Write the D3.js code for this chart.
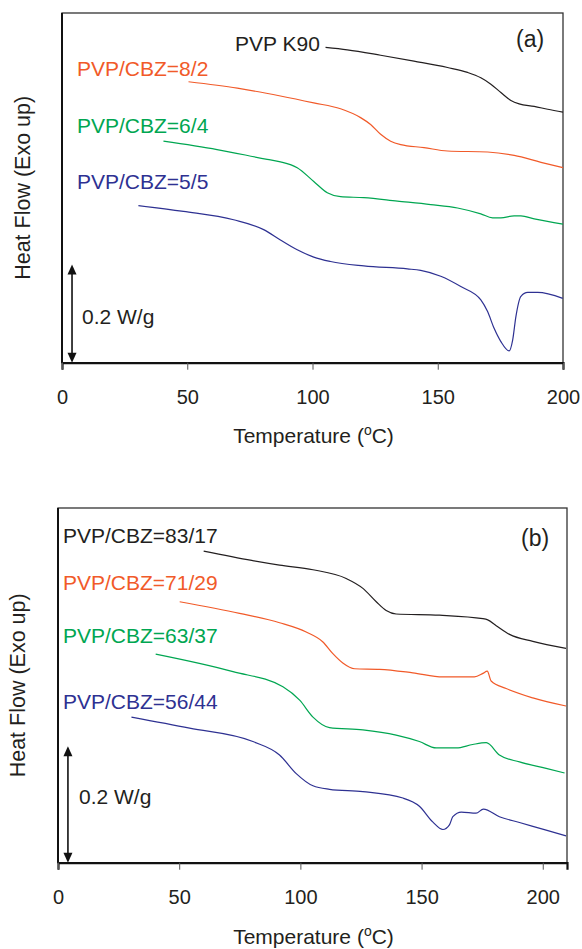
<!DOCTYPE html>
<html>
<head>
<meta charset="utf-8">
<script src="https://cdn.jsdelivr.net/npm/d3@7"></script>
<style>
body { margin: 0; background: #fff; }
svg { display: block; }
text { font-family: "Liberation Sans", Arial, sans-serif; }
</style>
</head>
<body>
<script>
// DSC traces, [temperature in C, heat flow in W/g with offset]
// panel (a)
var k90 = [[105.2,0.642],[113.9,0.637],[127.2,0.626],[140.5,0.614],[153.9,0.601],[161.9,0.591],[167.2,0.580],[171.2,0.567],[175.2,0.550],[179.2,0.534],[182.5,0.527],[188.5,0.522],[193.9,0.516],[200,0.510]];
var r82 = [[50.5,0.572],[70,0.559],[87.2,0.543],[100.5,0.529],[111.2,0.517],[119.2,0.499],[123.2,0.485],[127.2,0.465],[131.2,0.451],[135.2,0.444],[144.5,0.438],[153.9,0.431],[169.9,0.429],[180.5,0.422],[191.2,0.408],[200,0.397]];
var r64 = [[40.5,0.451],[61.9,0.434],[81.9,0.414],[87.2,0.409],[93.9,0.397],[100.5,0.369],[105.9,0.346],[111.2,0.338],[120.5,0.336],[133.9,0.329],[147.2,0.322],[157.9,0.315],[167.2,0.303],[171.9,0.295],[175.2,0.295],[180.5,0.299],[183.2,0.299],[188.5,0.293],[200,0.282]];
var r55 = [[30.5,0.320],[48.5,0.308],[68.5,0.291],[80.5,0.271],[87.2,0.250],[93.9,0.230],[100.5,0.215],[107.2,0.206],[120.5,0.197],[137.9,0.191],[143.2,0.188],[151.2,0.176],[159.2,0.155],[167.2,0.128],[169.9,0.104],[172.5,0.070],[175.2,0.043],[178.5,0.024],[179.9,0.046],[181.2,0.094],[183.2,0.135],[185.9,0.143],[189.9,0.143],[199.9,0.131]];
// panel (b)
var r8317 = [[60.1,0.535],[79.9,0.519],[91.4,0.511],[105.2,0.503],[118.9,0.488],[125.8,0.471],[131.3,0.448],[135.4,0.433],[139.5,0.427],[157.4,0.425],[175.3,0.419],[177.3,0.417],[180.8,0.407],[186.3,0.392],[195.9,0.380],[209.6,0.368]];
var r7129 = [[50.2,0.448],[74.9,0.428],[91.4,0.412],[102.4,0.396],[109.3,0.379],[113.4,0.359],[117.5,0.343],[122.4,0.333],[132.7,0.332],[146.4,0.326],[158.8,0.319],[171.8,0.319],[175.3,0.325],[177.1,0.329],[178.7,0.312],[184.9,0.299],[195.9,0.283],[209.6,0.269]];
var r6337 = [[40.3,0.358],[72.2,0.328],[92.8,0.302],[99.7,0.279],[105.2,0.250],[112,0.232],[125.8,0.228],[139.5,0.219],[149.1,0.208],[156,0.197],[164.3,0.197],[171.1,0.203],[176.7,0.206],[182.1,0.185],[190.4,0.173],[201.4,0.162],[209,0.154]];
var r5644 = [[30.3,0.250],[54.3,0.231],[80.4,0.208],[91.4,0.185],[98.3,0.153],[105.2,0.132],[112,0.126],[125.8,0.122],[142.3,0.111],[149.1,0.097],[154.6,0.070],[158.8,0.057],[161.5,0.065],[162.9,0.079],[166.4,0.087],[172.5,0.085],[175.5,0.092],[182.1,0.079],[190.4,0.069],[201.4,0.056],[209.6,0.046]];

var xTicks = [0, 50, 100, 150, 200];
var labelsA = ["PVP K90", "PVP/CBZ=8/2", "PVP/CBZ=6/4", "PVP/CBZ=5/5"];
var labelsB = ["PVP/CBZ=83/17", "PVP/CBZ=71/29", "PVP/CBZ=63/37", "PVP/CBZ=56/44"];
var colors = ["#231f20", "#f15a29", "#00a651", "#2e3192"];
var scaleBar = 0.2;

var W = 582, H = 949;
var svg = d3.select("body").append("svg").attr("width", W).attr("height", H);

function panel(o) {
  var x = d3.scaleLinear().domain(o.xDomain).range([o.left, o.right]);
  var y = d3.scaleLinear().domain(o.yDomain).range([o.bottom, o.top]);
  var g = svg.append("g");

  // frame
  g.append("rect").attr("x", o.left).attr("y", o.top)
    .attr("width", o.right - o.left).attr("height", o.bottom - o.top)
    .attr("fill", "none").attr("stroke", "#333").attr("stroke-width", 1.3);
  g.append("line").attr("x1", o.left).attr("x2", o.left).attr("y1", o.top).attr("y2", o.bottom)
    .attr("stroke", "#111").attr("stroke-width", 2);

  var ax = g.append("g").attr("transform", "translate(0," + o.bottom + ")")
    .call(d3.axisBottom(x).tickValues(xTicks).tickSize(7).tickFormat(d3.format("d")));
  ax.select(".domain").attr("stroke", "#111").attr("stroke-width", 2.2);
  ax.selectAll(".tick line").attr("stroke", "#555").attr("stroke-width", 1);
  ax.selectAll(".tick text").attr("y", o.tickBase - o.bottom).attr("dy", 0)
    .attr("font-size", 20).attr("fill", "#231f20");

  var line = d3.line().x(function(d) { return x(d[0]); }).y(function(d) { return y(d[1]); })
    .curve(d3.curveMonotoneX);
  o.series.forEach(function(s, i) {
    g.append("path").datum(s).attr("d", line).attr("fill", "none")
      .attr("stroke", colors[i]).attr("stroke-width", 1.2);
  });

  o.labels.forEach(function(t, i) {
    g.append("text").attr("x", o.labelPos[i][0]).attr("y", o.labelPos[i][1])
      .attr("font-size", 21).attr("fill", colors[i]).text(t);
  });
  g.append("text").attr("x", o.tag[0]).attr("y", o.tag[1]).attr("font-size", 23)
    .attr("fill", "#231f20").text(o.tagText);

  // 0.2 W/g scale bar
  var bx = x(o.barT), y0 = y(0), y1 = y(scaleBar);
  g.append("line").attr("x1", bx).attr("x2", bx).attr("y1", y0 - 4).attr("y2", y1 + 4)
    .attr("stroke", "#111").attr("stroke-width", 1.6);
  g.append("path").attr("d", "M" + bx + "," + y1 + "l-4.5,10h9z").attr("fill", "#111");
  g.append("path").attr("d", "M" + bx + "," + y0 + "l-4.5,-10h9z").attr("fill", "#111");
  g.append("text").attr("x", o.barLabel[0]).attr("y", o.barLabel[1]).attr("font-size", 21)
    .attr("fill", "#231f20").text(scaleBar + " W/g");

  var xt = g.append("text").attr("x", (o.left + o.right) / 2 + 1).attr("y", o.xTitleBase)
    .attr("text-anchor", "middle").attr("font-size", 21).attr("fill", "#231f20");
  xt.append("tspan").text("Temperature (");
  xt.append("tspan").attr("font-size", 14).attr("dy", -8).text("o");
  xt.append("tspan").attr("dy", 8).text("C)");

  g.append("text").attr("transform", "translate(" + o.yTitleX + "," + ((o.top + o.bottom) / 2) + ") rotate(-90)")
    .attr("text-anchor", "middle").attr("font-size", 21.5).attr("fill", "#231f20").text("Heat Flow (Exo up)");
}

panel({
  left: 62, right: 563, top: 13, bottom: 362.7,
  xDomain: [0, 200], yDomain: [0, 0.712],
  tickBase: 404, xTitleBase: 443, yTitleX: 30,
  series: [k90, r82, r64, r55], labels: labelsA,
  labelPos: [[235, 51], [77, 76], [77, 133], [77, 189]],
  tag: [516, 47], tagText: "(a)",
  barT: 4, barLabel: [82, 324]
});

panel({
  left: 58, right: 567, top: 508, bottom: 862.7,
  xDomain: [0, 210], yDomain: [0, 0.609],
  tickBase: 904, xTitleBase: 944, yTitleX: 25,
  series: [r8317, r7129, r6337, r5644], labels: labelsB,
  labelPos: [[63, 543], [63, 590], [63, 643], [63, 709]],
  tag: [521, 546], tagText: "(b)",
  barT: 4.1, barLabel: [79, 804]
});
</script>
</body>
</html>
